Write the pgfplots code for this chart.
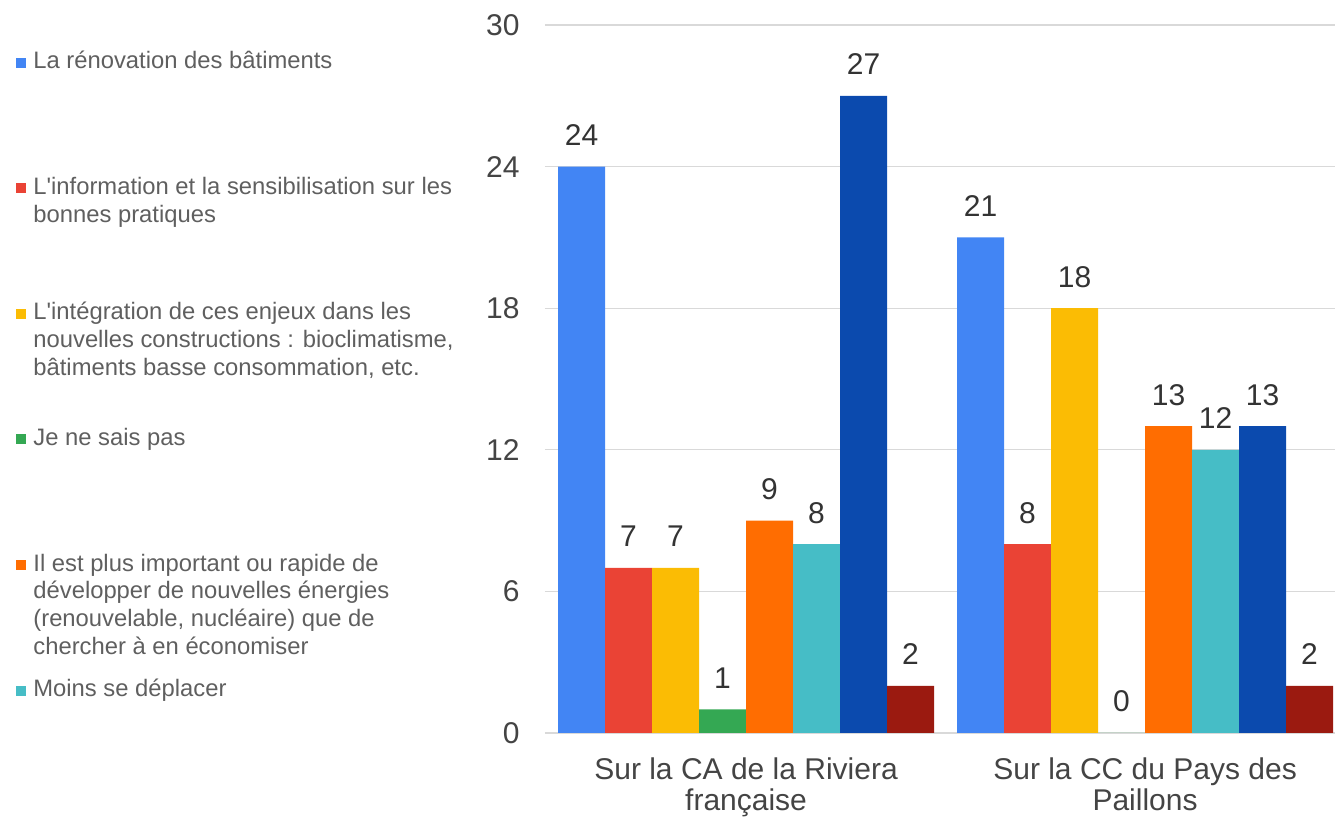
\documentclass[border=0pt]{standalone}
\usepackage{fontspec}
\setmainfont{Liberation Sans}
\usepackage{pgfplots}
\pgfplotsset{compat=1.18}
\definecolor{c1}{HTML}{4285F4}
\definecolor{c2}{HTML}{EA4335}
\definecolor{c3}{HTML}{FBBC04}
\definecolor{c4}{HTML}{34A853}
\definecolor{c5}{HTML}{FF6D01}
\definecolor{c6}{HTML}{46BDC6}
\definecolor{c7}{HTML}{0B4AAE}
\definecolor{c8}{HTML}{9B1A10}
\definecolor{tickgray}{HTML}{444444}
\definecolor{leggray}{HTML}{5F5F5F}
\definecolor{labgray}{HTML}{333333}
\definecolor{gridgray}{HTML}{D9D9D9}
\newcommand\lgt[1]{\begin{tabular}[t]{@{}l@{}}#1\end{tabular}}
\begin{document}
\begin{tikzpicture}
\begin{axis}[
  scale only axis, width=395pt, height=354pt,
  xmin=-0.504, xmax=1.476, ymin=0, ymax=30,
  ybar=0pt, bar width=0.1178,
  xtick={0,1},
  xticklabels={{Sur la CA de la Riviera\\française},{Sur la CC du Pays des\\Paillons}},
  xticklabel style={align=center, font=\fontsize{15}{15.5}\selectfont, text=tickgray, inner sep=0pt, anchor=north, yshift=-12pt},
  ytick={0,6,...,30},
  yticklabel style={font=\fontsize{15}{18}\selectfont, text=tickgray, inner sep=0pt, anchor=east, xshift=-12.5pt},
  major tick length=0pt,
  ymajorgrids, grid style={gridgray, line width=0.6pt},
  axis line style={draw=none},
  /pgf/number format/assume math mode=true,
  nodes near coords,
  every node near coord/.append style={font=\fontsize{15}{18}\selectfont, text=labgray, anchor=base, inner sep=0pt, yshift=10.5pt},
  legend image code/.code={\fill[#1] (0pt,0.6pt) rectangle (5pt,5.6pt);},
  legend style={at={(-0.6696,0.9614)}, anchor=north west, draw=none, fill=none, inner sep=0pt, row sep=0pt, column sep=3.5pt,
    font=\fontsize{11.9}{13.85}\selectfont,
    nodes={inner sep=0pt, text height=8pt, text depth=54.8pt, text=leggray},
    cells={anchor=base west}},
  clip=false,
]
\addplot[fill=c1, draw=none] coordinates {(0,24) (1,21)};
\addlegendentry{\lgt{La rénovation des bâtiments}}
\addplot[fill=c2, draw=none] coordinates {(0,7) (1,8)};
\addlegendentry{\lgt{L\textquotesingle information et la sensibilisation sur les\\bonnes pratiques}}
\addplot[fill=c3, draw=none] coordinates {(0,7) (1,18)};
\addlegendentry{\lgt{L\textquotesingle intégration de ces enjeux dans les\\nouvelles constructions : bioclimatisme,\\bâtiments basse consommation, etc.}}
\addplot[fill=c4, draw=none] coordinates {(0,1) (1,0)};
\addlegendentry{\lgt{Je ne sais pas}}
\addplot[fill=c5, draw=none] coordinates {(0,9) (1,13)};
\addlegendentry{\lgt{Il est plus important ou rapide de\\développer de nouvelles énergies\\(renouvelable, nucléaire) que de\\chercher à en économiser}}
\addplot[fill=c6, draw=none] coordinates {(0,8) (1,12)};
\addlegendentry{\lgt{Moins se déplacer}}
\addplot[fill=c7, draw=none] coordinates {(0,27) (1,13)};
\addplot[fill=c8, draw=none] coordinates {(0,2) (1,2)};
\end{axis}
\pgfresetboundingbox
\useasboundingbox (-272.5pt,-42pt) rectangle (395pt,366.5pt);
\end{tikzpicture}
\end{document}
